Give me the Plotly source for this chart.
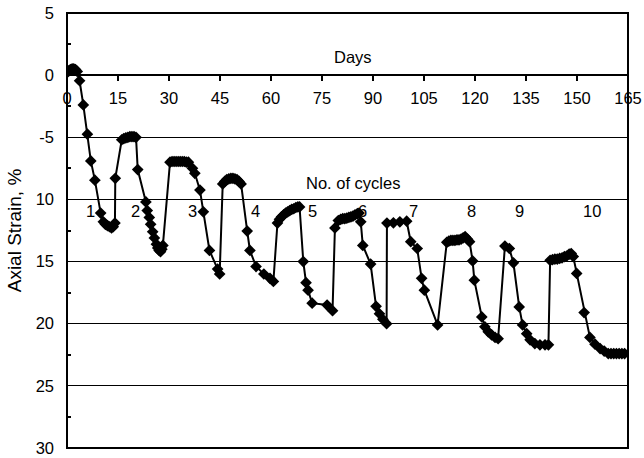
import plotly.graph_objects as go

# Days elapsed
days = [0, 0.5, 1, 1.5, 2, 2.5, 3, 3.7, 4.8, 6.0, 7.0, 8.2, 9.9,
        10.7, 11.3, 11.9, 12.5, 13.1, 13.6, 14.1, 14.2,
        16.1, 16.7, 17.3, 17.9, 18.5, 19.1, 19.7, 20.3,
        20.8, 23.2, 23.6, 24.2, 24.6, 25.2, 25.7, 26.3, 26.7, 27.1, 27.5, 27.9, 28.2,
        30.3, 30.9, 31.5, 32.1, 32.7, 33.3, 33.9, 34.5, 35.1, 35.7,
        36.9, 37.6, 39.1, 40.1, 41.9, 44.3, 44.9,
        45.8, 46.4, 47.0, 47.6, 48.2, 48.8, 49.4, 50.0, 50.6, 51.2,
        53.0, 53.8, 55.6, 57.9, 59.7, 60.7,
        61.9, 62.5, 63.1, 63.7, 64.3, 64.9, 65.5, 66.1, 66.7, 67.3, 67.9, 68.4,
        69.5, 70.3, 70.9, 72.1, 76.5, 78.1,
        78.8, 79.8, 80.5, 81.1, 81.7, 82.3, 82.9, 83.5, 84.1, 84.7, 85.4, 85.9,
        86.4, 87.0, 89.3, 90.9, 91.9, 92.9, 94.0,
        94.1, 96.0, 97.9, 99.9,
        101.1, 103.0, 104.3, 105.1, 109.0,
        111.7, 112.3, 112.9, 113.5, 114.1, 114.7, 115.3, 115.9, 116.5, 117.1, 117.8, 118.4,
        119.3, 119.8, 122.0, 122.9, 123.9, 124.9, 125.9, 126.8,
        128.8, 130.1, 131.3, 133.0, 134.0, 135.2, 136.2, 137.6, 139.1, 140.6, 141.6,
        142.1, 142.8, 143.5, 144.2, 144.9, 145.6, 146.3, 147.0, 147.7, 148.3, 148.9,
        149.9, 152.1, 153.8, 155.3, 156.8, 158.0,
        159.2, 160.0, 160.8, 161.6, 162.4, 163.2, 164.0]

# Axial strain, %
strain = [0.2, 0.35, 0.45, 0.5, 0.5, 0.45, 0.3, -0.45, -2.4, -4.75, -6.9, -8.45, -11.1,
          -11.8, -12.0, -12.1, -12.2, -12.3, -12.2, -11.9, -8.3,
          -5.2, -5.1, -5.05, -5.0, -4.95, -4.95, -4.95, -5.0,
          -7.6, -10.2, -10.9, -11.45, -12.0, -12.6, -13.1, -13.6, -13.9, -14.1, -14.2, -14.0, -13.7,
          -7.0, -6.95, -6.95, -6.95, -6.95, -6.95, -6.95, -6.95, -7.0, -7.0,
          -7.5, -7.9, -9.25, -11.0, -14.1, -15.6, -16.0,
          -8.75, -8.55, -8.4, -8.35, -8.3, -8.3, -8.35, -8.4, -8.55, -8.75,
          -12.55, -14.1, -15.4, -16.0, -16.35, -16.6,
          -11.9, -11.6, -11.4, -11.25, -11.1, -11.0, -10.9, -10.8, -10.75, -10.65, -10.6, -10.6,
          -15.0, -16.7, -17.3, -18.35, -18.5, -18.95,
          -12.3, -11.7, -11.6, -11.55, -11.55, -11.5, -11.45, -11.4, -11.35, -11.25, -11.15, -11.1,
          -11.8, -13.7, -15.2, -18.6, -19.2, -19.65, -20.0,
          -11.9, -11.88, -11.8, -11.75,
          -13.4, -13.95, -16.35, -17.3, -20.1,
          -13.45, -13.35, -13.3, -13.3, -13.3, -13.25, -13.25, -13.2, -13.1, -13.0, -13.2, -13.4,
          -14.95, -16.5, -19.45, -20.25, -20.65, -20.9, -21.1, -21.2,
          -13.75, -13.95, -15.1, -18.65, -20.1, -20.8, -21.3, -21.6, -21.7, -21.7, -21.7,
          -14.9, -14.85, -14.8, -14.8, -14.75, -14.7, -14.6, -14.55, -14.4, -14.35, -14.6,
          -15.95, -19.1, -21.1, -21.65, -22.0, -22.2,
          -22.4, -22.4, -22.4, -22.4, -22.4, -22.4, -22.4]

x_ticks = [0, 15, 30, 45, 60, 75, 90, 105, 120, 135, 150, 165]
y_tickvals = [5, 0, -5, -10, -15, -20, -25, -30]
y_ticktext = ["5", "0", "-5", "10", "15", "20", "25", "30"]

cycle_labels = ["1", "2", "3", "4", "5", "6", "7", "8", "9", "10"]
cycle_label_days = [6.8, 20.0, 37.0, 55.3, 72.3, 87.0, 101.8, 119.0, 133.0, 154.4]
cycle_label_strain = -10.9

FONT = "Liberation Sans, Arial, sans-serif"

fig = go.Figure()
fig.add_trace(go.Scatter(
    x=days, y=strain, mode="lines+markers",
    line=dict(color="black", width=2),
    marker=dict(symbol="diamond", size=9, color="black"),
    showlegend=False, hoverinfo="skip"))

annotations = [
    dict(x=xd, y=cycle_label_strain, text=t, showarrow=False, xref="x", yref="y",
         font=dict(family=FONT, size=16.5, color="black"))
    for xd, t in zip(cycle_label_days, cycle_labels)
]
annotations.append(dict(x=84, y=1.45, text="Days", showarrow=False, xref="x", yref="y",
                        font=dict(family=FONT, size=16.5, color="black")))
annotations.append(dict(x=84, y=-8.7, text="No. of cycles", showarrow=False, xref="x", yref="y",
                        font=dict(family=FONT, size=16.5, color="black")))

y_min, y_max = -30, 5
fig.update_layout(
    width=644, height=458,
    margin=dict(l=67, r=16, t=13, b=10),
    paper_bgcolor="white", plot_bgcolor="white",
    font=dict(family=FONT, size=16.5, color="black"),
    xaxis=dict(range=[0, 165], tickvals=x_ticks, ticks="outside", ticklen=5, tickwidth=2,
               tickcolor="black", showline=True, linecolor="black", linewidth=2,
               showgrid=False, zeroline=False, anchor="free", automargin=False,
               position=(0 - y_min) / (y_max - y_min), ticklabelstandoff=3,
               tickfont=dict(family=FONT, size=16.5, color="black")),
    yaxis=dict(range=[y_min, y_max], tickvals=y_tickvals, ticktext=y_ticktext,
               ticks="", showgrid=True, gridcolor="black", gridwidth=1, automargin=False,
               zeroline=False, showline=False, ticklabelstandoff=12,
               tickfont=dict(family=FONT, size=16.5, color="black"),
               minor=dict(tickmode="linear", tick0=2.5, dtick=5, ticks="inside",
                          ticklen=4, tickwidth=2, tickcolor="black", showgrid=False),
               title=dict(text="Axial Strain, %", font=dict(family=FONT, size=19, color="black"),
                          standoff=8)),
    shapes=[dict(type="rect", xref="paper", yref="paper", x0=0, x1=1, y0=0, y1=1,
                 line=dict(color="black", width=2), layer="above")],
    annotations=annotations,
)

fig.write_html("out.html")
